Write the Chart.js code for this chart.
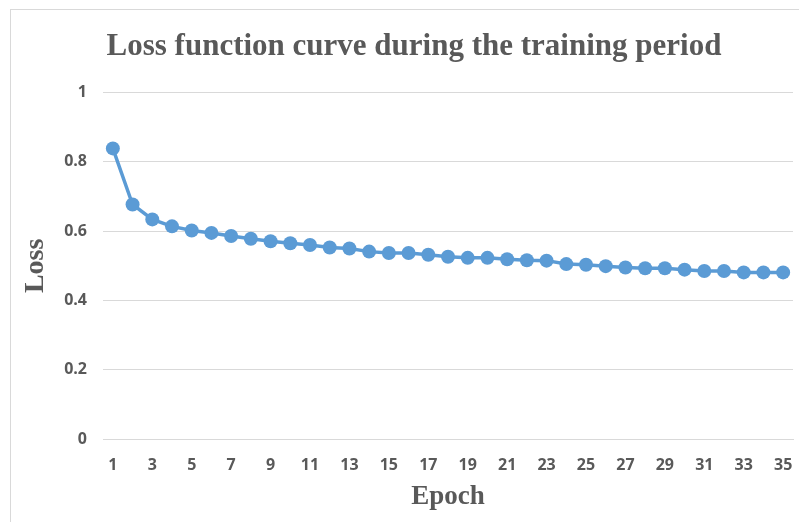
<!DOCTYPE html>
<html>
<head>
<meta charset="utf-8">
<script src="https://cdn.jsdelivr.net/npm/chart.js@4.4.1/dist/chart.umd.min.js"></script>
<style>
  html, body { margin: 0; padding: 0; background: #ffffff; overflow: hidden; }
  body { width: 799px; height: 522px; position: relative; }
  #frame {
    position: absolute; left: 10px; top: 9px; width: 840px; height: 560px;
    border: 1px solid #d9d9d9; box-sizing: border-box;
  }
  #wrap { position: absolute; left: 0; top: 0; width: 830px; height: 522px; }
</style>
</head>
<body>
<div id="frame"></div>
<div id="wrap"><canvas id="c" width="830" height="522"></canvas></div>
<script>
// Training loss per epoch
const epochs = [];
for (let i = 1; i <= 35; i++) epochs.push(String(i));

const lossValues = [
  0.839, 0.677, 0.634, 0.614, 0.602, 0.595, 0.586, 0.578, 0.571, 0.565,
  0.560, 0.553, 0.550, 0.541, 0.537, 0.537, 0.532, 0.526, 0.523, 0.523,
  0.519, 0.516, 0.515, 0.505, 0.503, 0.499, 0.495, 0.493, 0.493, 0.489,
  0.485, 0.485, 0.481, 0.481, 0.481
];

const yTicks = [0, 0.2, 0.4, 0.6, 0.8, 1];

const chartTitle = 'Loss function curve during the training period';
const xTitle = 'Epoch';
const yTitle = 'Loss';

const grey = '#595959';
const blue = '#5B9BD5';
const gridColor = '#d9d9d9';
const tickFont = { family: '"Open Sans", "Liberation Sans", sans-serif', size: 16, weight: 'bold' };
const serifFont = { family: '"Liberation Serif", "Times New Roman", serif', weight: 'bold' };

new Chart(document.getElementById('c'), {
  type: 'line',
  data: {
    labels: epochs,
    datasets: [{
      data: lossValues,
      borderColor: blue,
      backgroundColor: blue,
      borderWidth: 3.5,
      pointRadius: 7,
      pointHoverRadius: 7,
      pointBorderWidth: 0,
      pointBackgroundColor: blue,
      tension: 0,
      fill: false
    }]
  },
  options: {
    responsive: false,
    animation: false,
    events: [],
    layout: { padding: { left: 35, right: 37, top: 0, bottom: 0 } },
    plugins: {
      legend: { display: false },
      tooltip: { enabled: false },
      title: {
        display: true,
        text: chartTitle,
        color: grey,
        font: Object.assign({ size: 31, lineHeight: 1.15 }, serifFont),
        padding: { top: 29, bottom: 28 }
      }
    },
    scales: {
      x: {
        offset: true,
        grid: { display: false, drawTicks: false },
        border: { display: true, color: gridColor, width: 1 },
        ticks: {
          color: grey,
          font: tickFont,
          autoSkip: false,
          maxRotation: 0,
          padding: 17,
          callback: function (value, index) {
            return index % 2 === 0 ? epochs[index] : '';
          }
        },
        title: {
          display: true,
          text: xTitle,
          color: grey,
          font: Object.assign({ size: 27, lineHeight: 1.15 }, serifFont),
          padding: { top: 0, bottom: 9 }
        },
        afterFit: function (scale) { scale.height = 83; }
      },
      y: {
        min: 0,
        max: 1,
        afterBuildTicks: function (scale) {
          scale.ticks = yTicks.map(v => ({ value: v }));
        },
        grid: { color: gridColor, lineWidth: 1, drawTicks: false },
        border: { display: false },
        ticks: {
          color: grey,
          font: tickFont,
          padding: 16,
          callback: function (value) { return String(value); }
        },
        title: {
          display: true,
          text: yTitle,
          color: grey,
          font: Object.assign({ size: 28, lineHeight: 1.15 }, serifFont),
          padding: { top: -15, bottom: 0 }
        },
        afterFit: function (scale) { scale.width = 68; }
      }
    }
  }
});
</script>
</body>
</html>
